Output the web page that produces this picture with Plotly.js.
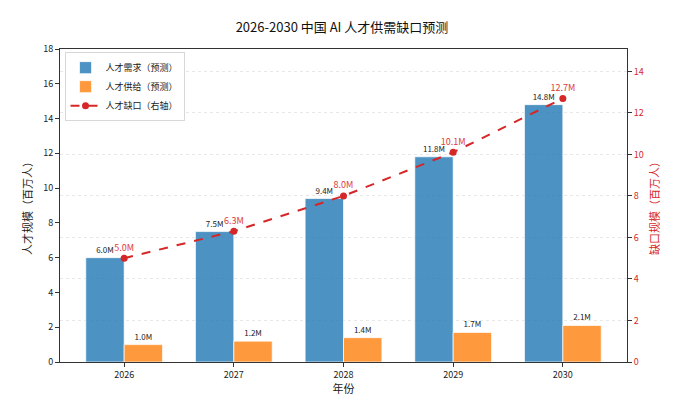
<!DOCTYPE html>
<html>
<head>
<meta charset="utf-8">
<script src="https://cdn.plot.ly/plotly-3.0.1.min.js"></script>
<style>html,body{margin:0;padding:0;background:#fff;}#chart{width:684px;height:396px;}</style>
</head>
<body>
<div id="chart"></div>
<script>
const years = ['2026', '2027', '2028', '2029', '2030'];
const demand = [6.0, 7.5, 9.4, 11.8, 14.8];
const supply = [1.0, 1.2, 1.4, 1.7, 2.1];
const gap = [5.0, 6.3, 8.0, 10.1, 12.7];
const leftTicks = [0, 2, 4, 6, 8, 10, 12, 14, 16, 18];
const rightTicks = [0, 2, 4, 6, 8, 10, 12, 14];

const FONT = '"Noto Sans CJK SC", "DejaVu Sans", sans-serif';

const traces = [
  {
    type: 'bar', name: '人才需求（预测）', x: years, y: demand,
    marker: {color: 'rgba(31,119,180,0.8)', line: {color: 'rgba(255,255,255,0.7)', width: 1}},
    text: demand.map(v => v.toFixed(1) + 'M'), textposition: 'outside', cliponaxis: false,
    textfont: {size: 8, color: '#222', family: FONT}, hoverinfo: 'skip'
  },
  {
    type: 'bar', name: '人才供给（预测）', x: years, y: supply,
    marker: {color: 'rgba(255,127,14,0.8)', line: {color: 'rgba(255,255,255,0.7)', width: 1}},
    text: supply.map(v => v.toFixed(1) + 'M'), textposition: 'outside', cliponaxis: false,
    textfont: {size: 8, color: '#222', family: FONT}, hoverinfo: 'skip'
  },
  {
    type: 'scatter', mode: 'lines+markers+text', name: '人才缺口（右轴）', x: years, y: gap, yaxis: 'y2',
    line: {color: '#d62728', width: 2, dash: 'dash'},
    marker: {color: '#d62728', size: 7},
    text: gap.map(v => v.toFixed(1) + 'M'), textposition: 'top center', cliponaxis: false,
    textfont: {size: 9, color: '#e0383a', family: FONT}, hoverinfo: 'skip'
  }
];

const layout = {
  width: 684, height: 396,
  margin: {l: 60, r: 57, t: 49, b: 34},
  paper_bgcolor: '#fff', plot_bgcolor: '#fff',
  font: {family: FONT, size: 9, color: '#222'},
  title: {text: '2026-2030 中国 AI 人才供需缺口预测', font: {size: 13, color: '#111', family: FONT}, x: 0.5, xanchor: 'center', y: 0.93, yanchor: 'middle'},
  barmode: 'group', bargap: 0.3, bargroupgap: 0,
  showlegend: true,
  legend: {x: 0.008, y: 0.99, xanchor: 'left', yanchor: 'top', bgcolor: 'rgba(255,255,255,0.9)', bordercolor: '#d8d8d8', borderwidth: 1, font: {size: 9, family: FONT}, tracegroupgap: 0, itemwidth: 30},
  xaxis: {
    type: 'category', range: [-0.585, 4.585],
    showline: true, linecolor: '#333', linewidth: 1, mirror: true,
    ticks: 'outside', ticklen: 4, tickcolor: '#333', tickfont: {size: 9},
    showgrid: false, zeroline: false,
    title: {text: '年份', font: {size: 11}, standoff: 4}
  },
  yaxis: {
    range: [0, 18], tickvals: leftTicks, ticktext: leftTicks.map(String),
    showline: true, linecolor: '#333', linewidth: 1, mirror: true,
    ticks: 'outside', ticklen: 4, tickcolor: '#333', tickfont: {size: 9},
    showgrid: false, zeroline: false,
    title: {text: '人才规模（百万人）', font: {size: 11}, standoff: 8}
  },
  yaxis2: {
    overlaying: 'y', side: 'right', range: [0, 15.08],
    tickvals: rightTicks, ticktext: rightTicks.map(String),
    ticks: 'outside', ticklen: 4, tickcolor: '#333', tickfont: {size: 9, color: '#d62728'},
    showline: false, zeroline: false,
    showgrid: true, gridcolor: 'rgba(0,0,0,0.09)', griddash: 'dot', gridwidth: 1,
    title: {text: '缺口规模（百万人）', font: {size: 11, color: '#d62728'}, standoff: 8}
  }
};

Plotly.newPlot('chart', traces, layout, {displayModeBar: false, staticPlot: true});
</script>
</body>
</html>
